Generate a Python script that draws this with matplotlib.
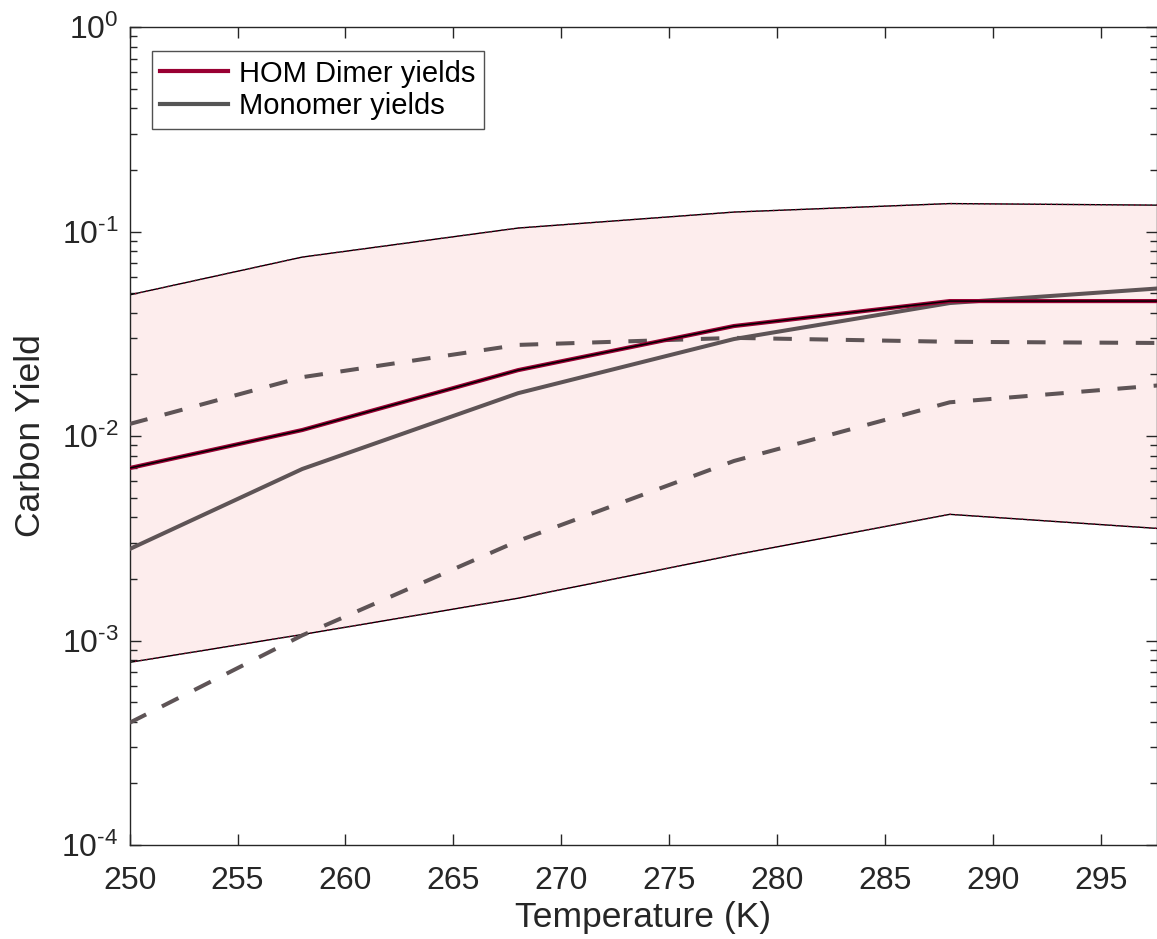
import matplotlib
matplotlib.use("Agg")
import matplotlib.pyplot as plt
from matplotlib.lines import Line2D
from matplotlib.ticker import LogLocator, FixedLocator, NullFormatter

plt.rcParams['font.family'] = ['Liberation Sans', 'DejaVu Sans']
plt.rcParams['mathtext.fontset'] = 'custom'
plt.rcParams['mathtext.rm'] = 'Liberation Sans'
plt.rcParams['mathtext.it'] = 'Liberation Sans'
plt.rcParams['mathtext.default'] = 'regular'

# Temperatures (K)
temperature = [250, 258, 268, 278, 288, 298]

# HOM dimer carbon yields with uncertainty envelope
dimer_yield = [0.00697, 0.0107, 0.0210, 0.0345, 0.0457, 0.0457]
dimer_upper = [0.049, 0.075, 0.104, 0.1245, 0.137, 0.1345]
dimer_lower = [0.000782, 0.00107, 0.00161, 0.00262, 0.00414, 0.00351]

# Monomer carbon yields with bounds
monomer_yield = [0.0028, 0.0069, 0.0162, 0.0298, 0.0447, 0.0530]
monomer_upper = [0.01145, 0.0194, 0.0279, 0.0302, 0.0289, 0.0285]
monomer_lower = [0.000396, 0.00106, 0.00307, 0.00755, 0.01462, 0.0178]

# y tick labels (powers of ten)
ytick_vals = [1e-4, 1e-3, 1e-2, 1e-1, 1e0]
ytick_labels = [r'$10^{\text{-}4}$', r'$10^{\text{-}3}$', r'$10^{\text{-}2}$',
                r'$10^{\text{-}1}$', r'$10^{0}$']
xtick_vals = list(range(250, 300, 5))

red = '#990033'
gray = '#5e5456'
fill_col = '#fdeded'
axis_col = '#262626'

fig = plt.figure(figsize=(11.57, 9.39), dpi=100)
ax = fig.add_axes([0.112, 0.1001, 0.888, 0.8711])

ax.fill_between(temperature, dimer_lower, dimer_upper, color=fill_col, lw=0, zorder=1)
for bound in (dimer_upper, dimer_lower):
    ax.plot(temperature, bound, color='black', lw=1.0, zorder=2)
    ax.plot(temperature, bound, color=red, lw=1.0, ls=(0, (1, 3)), zorder=2.1)

ax.plot(temperature, monomer_upper, color=gray, lw=2.9, ls=(0, (4.6, 4.4)), zorder=3)
ax.plot(temperature, monomer_lower, color=gray, lw=2.9, ls=(0, (4.6, 4.4)), zorder=3)
ax.plot(temperature, monomer_yield, color=gray, lw=2.9, zorder=4)
ax.plot(temperature, dimer_yield, color=red, lw=3.0, zorder=5)
ax.plot(temperature, dimer_yield, color='black', lw=1.1, zorder=6)

ax.set_yscale('log')
ax.set_ylim(1e-4, 1)
ax.set_xlim(250, 297.6)

ax.xaxis.set_major_locator(FixedLocator(xtick_vals))
ax.yaxis.set_minor_locator(LogLocator(base=10, subs=range(2, 10), numticks=50))
ax.yaxis.set_minor_formatter(NullFormatter())
ax.set_yticks(ytick_vals)
ax.set_yticklabels(ytick_labels)

ax.tick_params(which='both', direction='in', top=True, right=True,
               colors=axis_col, labelsize=23, width=1.0)
ax.tick_params(which='major', length=7.7)
ax.tick_params(which='minor', length=5)
ax.tick_params(axis='x', which='major', pad=15)
ax.tick_params(axis='y', which='major', pad=8)
for sp in ax.spines.values():
    sp.set_color(axis_col)
    sp.set_linewidth(1.0)

ax.set_xlabel('Temperature (K)', fontsize=25.5, color=axis_col, labelpad=4)
ax.set_ylabel('Carbon Yield', fontsize=25.5, color=axis_col, labelpad=10)

handles = [Line2D([], [], color=red, lw=3.0),
           Line2D([], [], color='#555555', lw=3.0)]
leg = ax.legend(handles, ['HOM Dimer yields', 'Monomer yields'],
                loc='upper left', bbox_to_anchor=(0.0215, 0.971),
                fontsize=21, frameon=True, fancybox=False,
                handlelength=2.3, handletextpad=0.4, borderpad=0.3,
                labelspacing=0.15, borderaxespad=0)
leg.get_frame().set_edgecolor(axis_col)
leg.get_frame().set_linewidth(1.0)

fig.savefig('out.png', dpi=100)
